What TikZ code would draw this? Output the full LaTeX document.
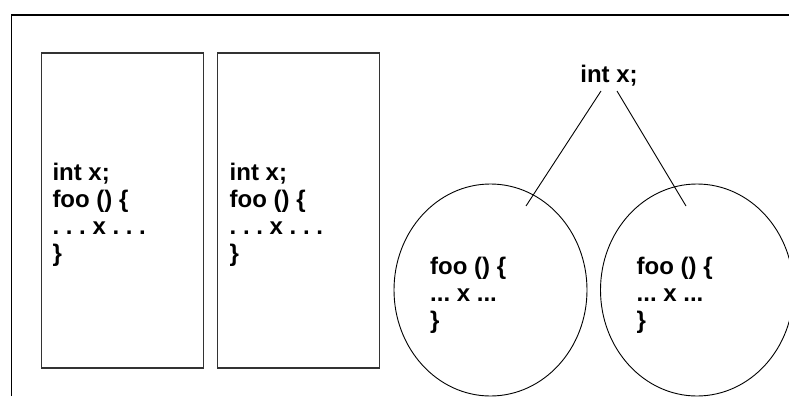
\documentclass[tikz,border=0pt]{standalone}
\usepackage{fontspec}
\setmainfont{Liberation Sans}
\usetikzlibrary{shapes.geometric}
\begin{document}
\frenchspacing
\begin{tikzpicture}[x=1pt,y=-1pt,
  frameline/.style={line width=1.3pt},
  box/.style={draw=black!80, line width=1.5pt, minimum width=162pt, minimum height=315pt, inner sep=0pt},
  code/.style={font=\fontsize{24}{27}\selectfont\bfseries\frenchspacing, align=left, inner sep=0pt, anchor=north west},
  oval/.style={draw, line width=0.9pt, ellipse, minimum width=193pt, minimum height=212pt, inner sep=0pt},
  link/.style={line width=0.9pt}]
\useasboundingbox (0,0) rectangle (789,396);
\draw[frameline] (11.5,396) -- (11.5,15) -- (789,15);
\node[box] (r1) at (122.5,210.5) {};
\node[box] (r2) at (298.5,210.5) {};
\node[code] (t1) at (52.3,162.5) {int x;\\foo () \{\\. . . x . . .\\\}};
\node[code] (t2) at (229.5,162.5) {int x;\\foo () \{\\. . . x . . .\\\}};
\node[oval] (c1) at (490.5,290) {};
\node[oval] (c2) at (697,290) {};
\node[code] (t3) at (430,256.5) {foo () \{\\... x ...\\\}};
\node[code] (t4) at (636.5,256.5) {foo () \{\\... x ...\\\}};
\node[code, anchor=north] (top) at (609,64.5) {int x;};
\coordinate (la) at (526,206);
\coordinate (ra) at (686,206);
\draw[link] ([xshift=-8pt,yshift=-5pt]top.south) -- (la);
\draw[link] ([xshift=8pt,yshift=-5pt]top.south) -- (ra);
\end{tikzpicture}
\end{document}
